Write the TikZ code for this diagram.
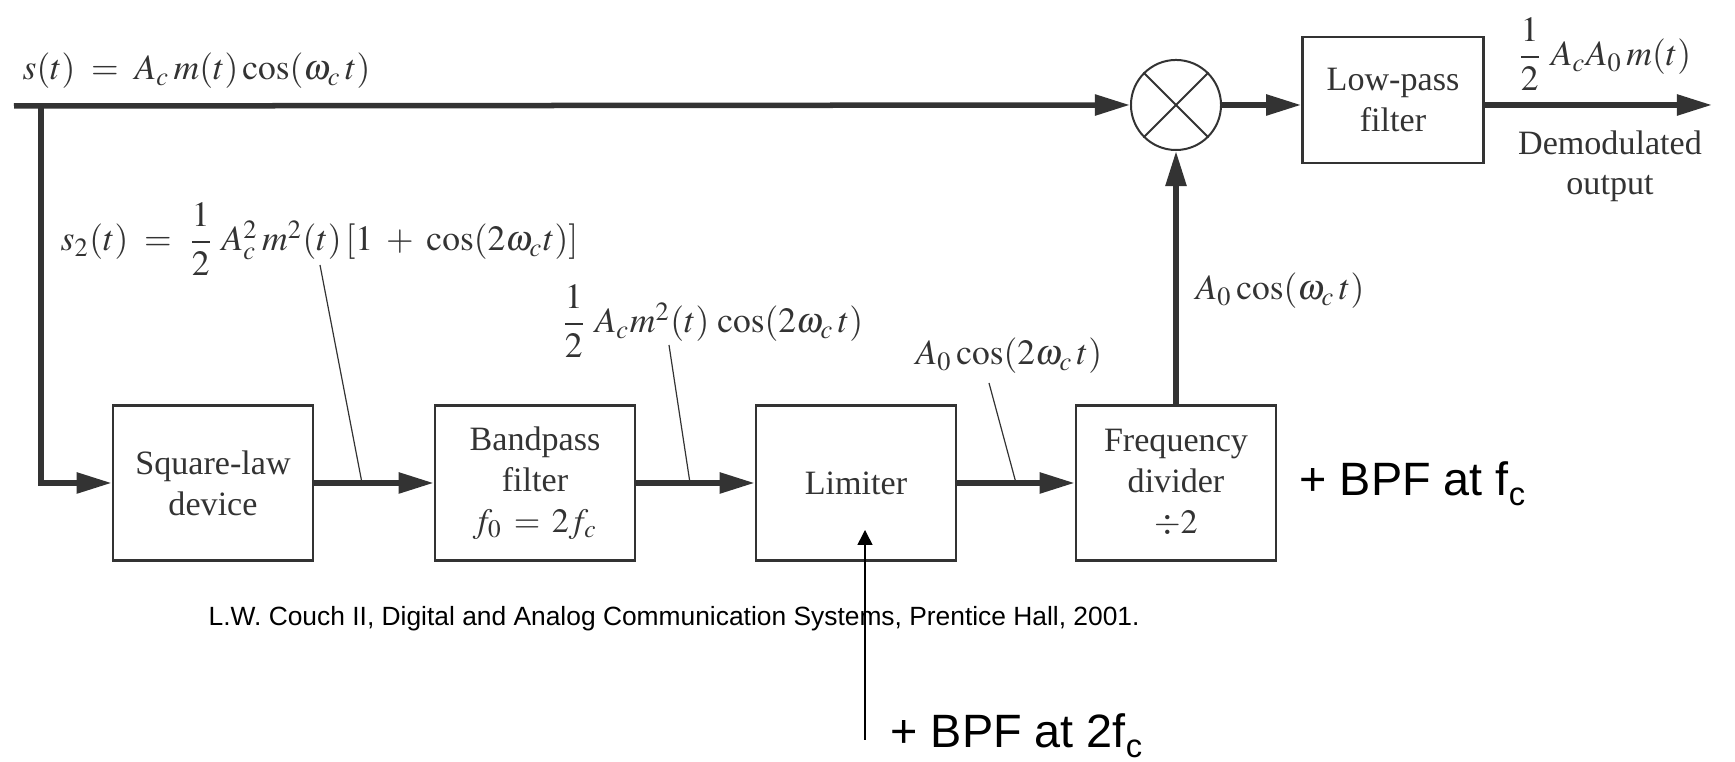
\documentclass[tikz,border=0pt]{standalone}
\usepackage{amsmath}
\usepackage{mathptmx}
\usepackage[no-math]{fontspec}
\setmainfont{Liberation Serif}
\newfontfamily\arialfont{Liberation Sans}
\usetikzlibrary{arrows.meta}
\colorlet{ink}{black!80}
\newcommand{\dfs}{\fontsize{9.7pt}{11.7pt}\selectfont}
\newcommand{\mfs}{\fontsize{10.1pt}{12pt}\selectfont}
\newcommand{\subc}{\raisebox{-2.8pt}{\fontsize{9.3pt}{10pt}\selectfont c}}
\begin{document}
\begin{tikzpicture}[x=0.01cm,y=-0.01cm,
  every node/.style={text=ink, font=\dfs, inner sep=0pt},
  blockbox/.style={draw=ink, line width=0.025cm, minimum width=2cm, minimum height=1.55cm, align=center, inner sep=0pt},
  mathlabel/.style={anchor=base west, font=\mfs},
  sig/.style={draw=ink, line width=0.055cm},
  sigarrow/.style={sig, -{Triangle[length=0.35cm,width=0.2cm]}},
  leader/.style={draw=ink, line width=0.012cm},
  note/.style={text=black, font=\arialfont\fontsize{13.3pt}{15pt}\selectfont},
]
\useasboundingbox (0,0) rectangle (1735,762);

% blocks
\node[blockbox] (sq) at (213,483) {Square-law\\device};
\node[blockbox] (bp) at (535,483) {Bandpass\\filter\\$f_0 \,=\, 2f_c$};
\node[blockbox] (lim) at (856,483) {Limiter};
\node[blockbox] (fd) at (1176,483) {Frequency\\divider\\$\div 2$};
\node[draw=ink, line width=0.02cm, circle, minimum size=0.9cm, inner sep=0pt] (mix) at (1176,105) {};
\draw[ink, line width=0.02cm] (mix.north west) -- (mix.south east) (mix.north east) -- (mix.south west);
\node[blockbox, minimum width=1.81cm, minimum height=1.26cm] (lpf) at (1393,100) {Low-pass\\filter};

% signal connectors
\coordinate (start) at (14,106);
\coordinate (split) at (41,106);
\coordinate (outend) at (1712,105);
\draw[sigarrow] (start) -- (mix.west);
\draw[sigarrow] (split) |- (sq.west);
\draw[sigarrow] (sq) -- (bp);
\draw[sigarrow] (bp) -- (lim);
\draw[sigarrow] (lim) -- (fd);
\draw[sigarrow] (fd) -- (mix);
\draw[sigarrow] (mix.east) -- (mix.east -| lpf.west);
\draw[sigarrow] (mix.east -| lpf.east) -- (outend);

% labels
\node[mathlabel] (lbls) at (22,80) {$s(t) \;=\; A_c\, m(t) \cos(\omega_c\, t)$};
\node[mathlabel] (lbls2) at (60,251) {$s_2(t) \;=\; \dfrac{1}{2}\;A_c^2\, m^2(t)\,[1 \;+\; \cos(2\omega_c t)]$};
\node[mathlabel] (lblbp) at (560,333) {$\dfrac{1}{2}\;A_c m^2(t)\,\cos(2\omega_c\, t)$};
\node[mathlabel] (lbllim) at (915,365) {$A_0 \cos(2\omega_c\, t)$};
\node[mathlabel] (lblfd) at (1195,300) {$A_0 \cos(\omega_c\, t)$};
\node[mathlabel] (lblout) at (1516,66) {$\dfrac{1}{2}\;A_c A_0\, m(t)$};
\node[anchor=base] (dem1) at (1610,155) {Demodulated};
\node[anchor=base] (dem2) at (1610,195) {output};

% leaders
\coordinate (l1a) at (320,265); \coordinate (l1b) at (362,483);
\coordinate (l2a) at (669,345); \coordinate (l2b) at (690,483);
\coordinate (l3a) at (989,383); \coordinate (l3b) at (1016,483);
\draw[leader] (l1a) -- (l1b);
\draw[leader] (l2a) -- (l2b);
\draw[leader] (l3a) -- (l3b);

% annotations
\node[note, anchor=base west] (bpf1) at (1299,496) {+ BPF at f\subc};
\node[note, anchor=base west] (bpf2) at (890,748) {+ BPF at 2f\subc};
\node[anchor=base west, text=black, font=\arialfont\fontsize{7.5pt}{9pt}\selectfont] (cite) at (208,626) {L.W. Couch II, Digital and Analog Communication Systems, Prentice Hall, 2001.};
\coordinate (noteStart) at (865,740);
\coordinate (noteTip) at (865,530);
\draw[black, line width=0.015cm, -{Triangle[length=0.15cm,width=0.15cm]}] (noteStart) -- (noteTip);
\end{tikzpicture}
\end{document}
